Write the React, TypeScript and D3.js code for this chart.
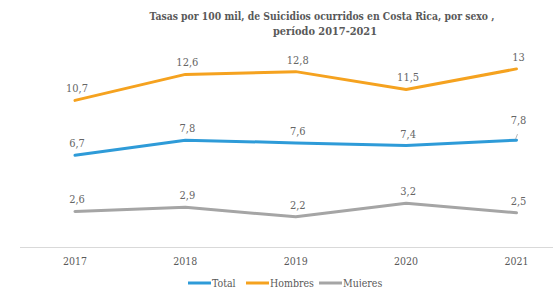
import React from "react";
import * as d3 from "d3";

const years = ["2017", "2018", "2019", "2020", "2021"];
const total = [6.7, 7.8, 7.6, 7.4, 7.8];
const hombres = [10.7, 12.6, 12.8, 11.5, 13];
const mujeres = [2.6, 2.9, 2.2, 3.2, 2.5];
const seriesNames = ["Total", "Hombres", "Mujeres"];
const titleLines = [
  "Tasas por 100 mil, de Suicidios ocurridos en Costa Rica, por sexo ,",
  "período 2017-2021",
];

const W = 553;
const H = 287;
const colors = ["#2E9BD8", "#F5A21F", "#A5A5A5"];
const font = "'DejaVu Serif Condensed', 'DejaVu Serif', serif";

export default function App() {
  const x = d3.scalePoint<string>().domain(years).range([75, 516.5]);
  const y = d3.scaleLinear().domain([0, 14]).range([247, 55.2]);
  const series = [total, hombres, mujeres];
  const line = d3
    .line<number>()
    .x((_, i) => x(years[i]) as number)
    .y((d) => y(d));
  const fmt = (v: number) => String(v).replace(".", ",");
  const legendX = [188, 246, 319];

  return (
    <svg
      width={W}
      height={H}
      style={{ position: "absolute", left: 0, top: 0, background: "#fff" }}
    >
      <g fontFamily={font} fontWeight="bold" fill="#595959" textAnchor="middle">
        <text x={322} y={20} fontSize={11.5} textLength={345} lengthAdjust="spacingAndGlyphs">
          {titleLines[0]}
        </text>
        <text x={325} y={35} fontSize={11.5} textLength={104} lengthAdjust="spacingAndGlyphs">
          {titleLines[1]}
        </text>
      </g>
      <line x1={20} x2={553} y1={247.5} y2={247.5} stroke="#D9D9D9" strokeWidth={1} />
      {years.map((yr) => (
        <text
          key={yr}
          x={x(yr)}
          y={265}
          textAnchor="middle"
          fontFamily={font}
          fontSize={10.5}
          fill="#595959"
        >
          {yr}
        </text>
      ))}
      {series.map((s, k) => (
        <path
          key={k}
          d={line(s) || ""}
          fill="none"
          stroke={colors[k]}
          strokeWidth={3}
          strokeLinejoin="round"
          strokeLinecap="round"
        />
      ))}
      {series.map((s, k) =>
        s.map((v, i) => {
          const isLastTotal = k === 0 && i === 4;
          const ly = y(v) - (isLastTotal ? 16 : 8);
          return (
            <text
              key={`${k}-${i}`}
              x={(x(years[i]) as number) + 2}
              y={ly}
              textAnchor="middle"
              fontFamily={font}
              fontSize={11}
              fill="#666"
            >
              {fmt(v)}
            </text>
          );
        })
      )}
      <line
        x1={(x(years[4]) as number) - 1}
        y1={y(total[4]) - 1}
        x2={(x(years[4]) as number) + 1}
        y2={y(total[4]) - 6}
        stroke="#A6A6A6"
        strokeWidth={0.8}
      />
      {seriesNames.map((n, k) => (
        <g key={n}>
          <line
            x1={legendX[k]}
            x2={legendX[k] + 23}
            y1={283}
            y2={283}
            stroke={colors[k]}
            strokeWidth={3}
          />
          <text
            x={legendX[k] + 24}
            y={286.5}
            fontFamily={font}
            fontSize={10.5}
            fill="#595959"
          >
            {n}
          </text>
        </g>
      ))}
    </svg>
  );
}
